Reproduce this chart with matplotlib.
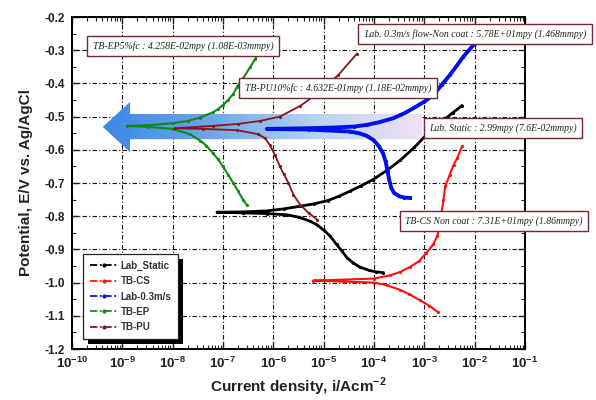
import numpy as np
import matplotlib
matplotlib.use("Agg")
import matplotlib.pyplot as plt
from matplotlib.lines import Line2D
from matplotlib.patches import Polygon, Rectangle
from matplotlib.colors import LinearSegmentedColormap
from matplotlib.ticker import FixedLocator, LogLocator, MultipleLocator, NullFormatter

plt.rcParams['font.family'] = ['Liberation Sans', 'DejaVu Sans']
plt.rcParams['mathtext.fontset'] = 'custom'
plt.rcParams['mathtext.bf'] = 'Liberation Sans:bold'
plt.rcParams['mathtext.rm'] = 'Liberation Sans:bold'

# ---------------- data (current density A/cm2, potential V) ----------------
static_i = [1.51e-4, 1.12e-4, 7.9e-5, 5.2e-5, 3.8e-5, 2.9e-5, 2.3e-5, 1.8e-5, 1.35e-5, 1.0e-5, 7.4e-6,
            5.4e-6, 3.2e-6, 1.9e-6, 7.4e-7, 2.5e-7, 7.6e-8,
            2.5e-7, 7.4e-7, 1.6e-6, 3.4e-6, 6.3e-6, 1.2e-5, 2.0e-5, 3.3e-5, 5.6e-5, 9.5e-5, 1.8e-4,
            3.3e-4, 6.3e-4, 1.1e-3, 2.0e-3, 3.7e-3, 5.6e-3]
static_E = [-0.970, -0.968, -0.963, -0.953, -0.940, -0.925, -0.905, -0.885, -0.860, -0.842, -0.826,
            -0.815, -0.803, -0.796, -0.792, -0.790, -0.788,
            -0.787, -0.784, -0.778, -0.770, -0.763, -0.753, -0.740, -0.725, -0.708, -0.690, -0.662,
            -0.632, -0.593, -0.555, -0.520, -0.488, -0.467]

cs_i = [1.9e-3, 1.26e-3, 8.1e-4, 5.0e-4, 3.3e-4, 1.8e-4, 1.0e-4, 2.5e-5, 6.2e-6,
        2.5e-5, 1.0e-4, 2.1e-4, 3.3e-4, 5.2e-4, 7.9e-4, 1.1e-3, 1.5e-3, 1.8e-3, 2.05e-3, 2.2e-3,
        2.4e-3, 2.6e-3, 3.2e-3, 3.8e-3, 4.5e-3, 5.6e-3]
cs_E = [-1.090, -1.070, -1.053, -1.035, -1.022, -1.008, -1.000, -0.997, -0.994,
        -0.991, -0.988, -0.978, -0.968, -0.953, -0.935, -0.910, -0.885, -0.860, -0.825, -0.790,
        -0.750, -0.710, -0.675, -0.645, -0.625, -0.590]

flow_i = [5.2e-4, 4.0e-4, 3.2e-4, 2.5e-4, 2.2e-4, 2.0e-4, 1.86e-4, 1.7e-4, 1.5e-4, 1.26e-4, 1.0e-4,
          7.2e-5, 5.0e-5, 3.3e-5, 5.0e-6, 7.4e-7,
          5.0e-6, 1.6e-5, 4.0e-5, 7.2e-5, 1.26e-4, 2.4e-4, 4.0e-4, 6.0e-4, 1.0e-3, 1.5e-3, 2.2e-3,
          3.2e-3, 4.5e-3, 5.9e-3, 1.0e-2]
flow_E = [-0.745, -0.744, -0.740, -0.730, -0.715, -0.690, -0.665, -0.635, -0.610, -0.590, -0.572,
          -0.558, -0.550, -0.545, -0.539, -0.537,
          -0.535, -0.533, -0.530, -0.525, -0.517, -0.505, -0.490, -0.475, -0.455, -0.435, -0.405,
          -0.375, -0.345, -0.320, -0.280]

ep_i = [2.95e-7, 2.5e-7, 2.0e-7, 1.6e-7, 1.26e-7, 1.0e-7, 7.9e-8, 6.3e-8, 4.7e-8, 3.5e-8, 2.2e-8,
        1.0e-8, 3.2e-9, 1.23e-9,
        3.2e-9, 1.0e-8, 2.0e-8, 3.5e-8, 6.3e-8, 7.9e-8, 1.0e-7, 1.26e-7, 1.6e-7, 1.9e-7, 2.5e-7,
        3.5e-7, 4.4e-7, 5.5e-7]
ep_E = [-0.766, -0.750, -0.725, -0.700, -0.675, -0.650, -0.628, -0.610, -0.588, -0.572, -0.553,
        -0.537, -0.531, -0.528,
        -0.526, -0.520, -0.513, -0.503, -0.487, -0.478, -0.465, -0.450, -0.432, -0.410, -0.385,
        -0.350, -0.325, -0.300]

pu_i = [7.4e-6, 5.0e-6, 3.4e-6, 2.5e-6, 2.0e-6, 1.6e-6, 1.35e-6, 1.07e-6, 8.5e-7, 6.8e-7, 5.0e-7,
        1.9e-7, 4.0e-8, 1.12e-8,
        6.3e-8, 2.0e-7, 5.5e-7, 1.35e-6, 3.4e-6, 6.2e-6, 1.95e-5, 4.6e-5]
pu_E = [-0.810, -0.790, -0.765, -0.735, -0.700, -0.672, -0.650, -0.615, -0.585, -0.565, -0.553,
        -0.541, -0.537, -0.535,
        -0.528, -0.522, -0.513, -0.500, -0.468, -0.440, -0.375, -0.310]

series_names = ['Lab_Static', 'TB-CS', 'Lab-0.3m/s', 'TB-EP', 'TB-PU']
series_colors = ['#000000', '#ff1010', '#0010ee', '#108a10', '#8b1414']

x_ticks = [1e-10, 1e-9, 1e-8, 1e-7, 1e-6, 1e-5, 1e-4, 1e-3, 1e-2, 1e-1]
x_tick_labels = [r'$\mathbf{10^{-10}}$', r'$\mathbf{10^{-9}}$', r'$\mathbf{10^{-8}}$', r'$\mathbf{10^{-7}}$',
                 r'$\mathbf{10^{-6}}$', r'$\mathbf{10^{-5}}$', r'$\mathbf{10^{-4}}$', r'$\mathbf{10^{-3}}$',
                 r'$\mathbf{10^{-2}}$', r'$\mathbf{10^{-1}}$']
y_ticks = [-0.2, -0.3, -0.4, -0.5, -0.6, -0.7, -0.8, -0.9, -1.0, -1.1, -1.2]
y_tick_labels = ['-0.2', '-0.3', '-0.4', '-0.5', '-0.6', '-0.7', '-0.8', '-0.9', '-1.0', '-1.1', '-1.2']

annotations = [
    'TB-EP5%fc : 4.258E-02mpy (1.08E-03mmpy)',
    'TB-PU10%fc : 4.632E-01mpy (1.18E-02mmpy)',
    'Lab. 0.3m/s flow-Non coat : 5.78E+01mpy (1.468mmpy)',
    'Lab. Static : 2.99mpy (7.6E-02mmpy)',
    'TB-CS Non coat : 7.31E+01mpy (1.86mmpy)',
]
annot_pos = [(0.307, 0.885), (0.567, 0.780), (0.797, 0.915), (0.844, 0.680), (0.829, 0.448)]

# ---------------- figure ----------------
fig = plt.figure(figsize=(5.96, 4.0), dpi=100)
ax = fig.add_axes([0.1208, 0.1275, 0.7601, 0.83])
ax.set_xscale('log')

# gradient arrow (axes fraction coordinates)
arrow = Polygon([(0.068, 0.669), (0.128, 0.744), (0.128, 0.708), (0.773, 0.708),
                 (0.773, 0.632), (0.128, 0.632), (0.128, 0.593)],
                closed=True, transform=ax.transAxes, facecolor='none', edgecolor='none')
ax.add_patch(arrow)
cmap = LinearSegmentedColormap.from_list('arr', ['#3d86e8', '#6aa6ea', '#b8d4f2', '#f1e1f3'])
grad = np.linspace(0, 1, 256).reshape(1, -1)
im = ax.imshow(grad, cmap=cmap, extent=(0.068, 0.773, 0.593, 0.744), transform=ax.transAxes,
               aspect='auto', zorder=1.5, interpolation='bilinear')
im.set_clip_path(arrow)

all_i = [static_i, cs_i, flow_i, ep_i, pu_i]
all_E = [static_E, cs_E, flow_E, ep_E, pu_E]
widths = [2.0, 1.5, 2.8, 1.5, 1.3]
for xi, yi, c, lw in zip(all_i, all_E, series_colors, widths):
    ax.plot(xi, yi, color=c, lw=lw, marker='.', ms=2.5, zorder=3)

ax.set_xlim(1e-10, 1e-1)
ax.set_ylim(-1.2, -0.2)

ax.xaxis.set_major_locator(FixedLocator(x_ticks))
ax.set_xticklabels(x_tick_labels, fontsize=9.5)
ax.xaxis.set_minor_locator(LogLocator(base=10, subs=np.arange(2, 10) * 1.0, numticks=20))
ax.xaxis.set_minor_formatter(NullFormatter())
ax.yaxis.set_major_locator(FixedLocator(y_ticks))
ax.set_yticklabels(y_tick_labels, fontweight='bold', fontsize=8.5)
ax.yaxis.set_minor_locator(MultipleLocator(0.05))

ax.tick_params(which='both', direction='in', top=True, right=True, colors='#222222')
ax.tick_params(which='major', length=5, width=1.0)
ax.tick_params(which='minor', length=3, width=0.8)
ax.tick_params(axis='x', which='major', pad=5)
ax.tick_params(axis='y', which='major', pad=5)
for s in ax.spines.values():
    s.set_linewidth(1.4)

ax.grid(True, which='major', color='#111111', linestyle=(0, (4, 2, 1, 2)), linewidth=0.8, zorder=0.5)
ax.set_axisbelow(True)

ax.set_xlabel(r'Current density, i/Acm$^{\mathbf{-2}}$', fontsize=11, fontweight='bold',
              color='#222222', labelpad=3)
ax.set_ylabel('Potential, E/V vs. Ag/AgCl', fontsize=11, fontweight='bold', color='#222222', labelpad=8)

# legend
handles = [Line2D([0], [0], color=c, lw=1.3, linestyle=(0, (4, 1.5, 1, 1.5)), marker='.', ms=4)
           for c in series_colors]
leg = ax.legend(handles, series_names, loc='lower left', bbox_to_anchor=(0.024, 0.03),
                borderaxespad=0, fancybox=False, framealpha=1, edgecolor='#222222',
                prop={'size': 7, 'weight': 'bold'}, labelcolor='#333333', handlelength=3.0,
                handletextpad=0.2, labelspacing=0.55, borderpad=0.7, numpoints=1)
leg.get_frame().set_linewidth(0.9)
leg.set_zorder(6)

# annotation boxes
for txt, (fx, fy) in zip(annotations, annot_pos):
    fig.text(fx, fy, txt, ha='center', va='center', fontsize=7, style='italic',
             family=['Liberation Serif', 'DejaVu Serif'], color='#222222', zorder=10,
             bbox=dict(boxstyle='square,pad=0.55', facecolor='white', edgecolor='#7a2630', linewidth=1.0))

# solid black shadow for legend
fig.canvas.draw()
bb = leg.get_window_extent()
shadow = Rectangle((bb.x0 + 5, bb.y0 - 5), bb.width, bb.height, transform=None,
                   facecolor='black', edgecolor='none', zorder=5.5)
ax.add_artist(shadow)

fig.savefig('out.png', dpi=100)
